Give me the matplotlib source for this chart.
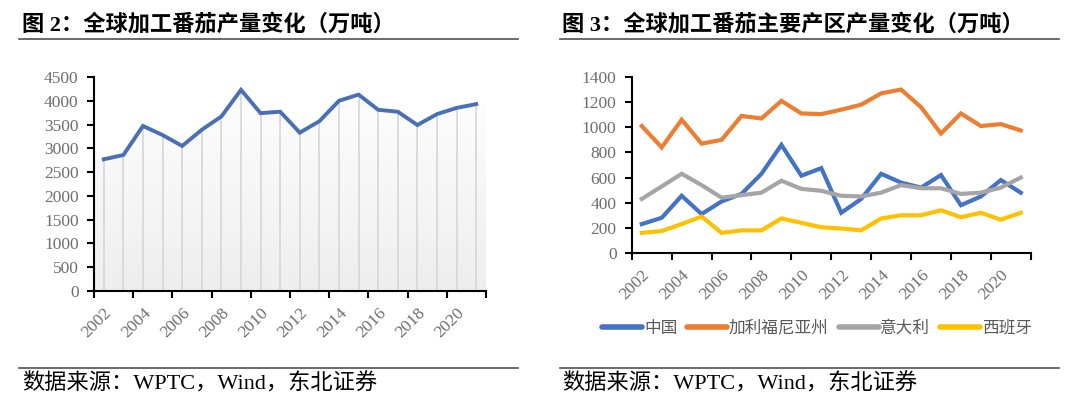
import numpy as np
import matplotlib
matplotlib.use('Agg')
import matplotlib.pyplot as plt
from matplotlib.lines import Line2D
from matplotlib.patches import Polygon
from matplotlib.colors import LinearSegmentedColormap

plt.rcParams['font.family'] = ['Liberation Serif', 'Noto Sans CJK SC', 'DejaVu Sans']

# data (万吨)
years = list(range(2002, 2022))
world_total = [2770, 2860, 3470, 3280, 3050, 3390, 3670, 4230, 3740, 3770,
               3330, 3570, 4000, 4130, 3810, 3770, 3490, 3720, 3850, 3930]

region_names = ['中国', '加利福尼亚州', '意大利', '西班牙']
china = [230, 280, 455, 310, 410, 470, 630, 860, 615, 675,
         320, 430, 630, 560, 520, 620, 380, 450, 580, 480]
california = [1010, 840, 1060, 870, 900, 1090, 1070, 1210, 1110, 1105,
              1140, 1180, 1270, 1300, 1160, 950, 1110, 1010, 1025, 975]
italy = [430, 530, 630, 540, 440, 460, 480, 575, 510, 495,
         455, 450, 480, 540, 515, 515, 470, 480, 520, 600]
spain = [160, 175, 230, 290, 160, 180, 180, 275, 240, 205,
         195, 180, 275, 300, 300, 340, 285, 320, 265, 320]
region_values = [china, california, italy, spain]
region_colors = ['#4472c4', '#ed7d31', '#a5a5a5', '#ffc000']

tick_color = '#6e6e6e'

fig = plt.figure(figsize=(10.8, 4), dpi=100)


def style_axis(ax, ymax, ystep):
    n = len(years)
    ax.set_xlim(-0.5, n - 0.5)
    ax.set_ylim(0, ymax)
    ax.set_yticks(np.arange(0, ymax + 1, ystep))
    # ticks on category borders, labels on category centers
    ax.set_xticks(np.arange(-0.5, n, 2))
    ax.set_xticklabels([])
    ax.set_xticks(np.arange(0, n, 2), minor=True)
    ax.set_xticklabels([str(y) for y in years[::2]], minor=True,
                       rotation=45, ha='right', va='top', rotation_mode='anchor')
    ax.tick_params(axis='x', which='minor', length=0, pad=10,
                   labelsize=12.5, labelcolor=tick_color)
    ax.tick_params(axis='x', which='major', direction='out', length=5, width=1.5)
    ax.tick_params(axis='y', direction='out', length=5, width=1.5, pad=6,
                   labelsize=12.5, labelcolor=tick_color)
    for s in ['top', 'right']:
        ax.spines[s].set_visible(False)
    for s in ['left', 'bottom']:
        ax.spines[s].set_linewidth(1.5)
        ax.spines[s].set_color('black')


# ---------- left chart ----------
ax1 = fig.add_axes([0.087, 0.2725, 0.363, 0.535])
style_axis(ax1, 4500, 500)
x = np.arange(len(years))

# gradient area under the line
verts = [(-0.5, 0), (-0.5, world_total[0])] + list(zip(x, world_total)) + \
        [(len(years) - 0.5, world_total[-1]), (len(years) - 0.5, 0)]
poly = Polygon(verts, closed=True, facecolor='none', edgecolor='none')
ax1.add_patch(poly)
cmap = LinearSegmentedColormap.from_list('g', ['#ffffff', '#eeeeee'])
grad = np.linspace(0, 1, 256).reshape(-1, 1)
im = ax1.imshow(grad, cmap=cmap, aspect='auto', origin='upper',
                extent=(-0.5, len(years) - 0.5, 0, 4500), zorder=1)
im.set_clip_path(poly)

ax1.vlines(x, 0, world_total, color='#d6d6d6', lw=1.2, zorder=2)
ax1.plot(x, world_total, color='#4a6fb3', lw=2.8, solid_joinstyle='miter', zorder=3)
ax1.set_xlim(-0.5, len(years) - 0.5)
ax1.set_ylim(0, 4500)

# ---------- right chart ----------
ax2 = fig.add_axes([0.585, 0.3675, 0.3694, 0.44])
style_axis(ax2, 1400, 200)
handles = []
for name, vals, col in zip(region_names, region_values, region_colors):
    h, = ax2.plot(x, vals, color=col, lw=3, label=name, solid_joinstyle='miter')
    handles.append(h)

leg = fig.legend(handles=handles, loc='center', bbox_to_anchor=(0.7565, 0.18),
                 ncol=4, frameon=False, handlelength=2.4, handletextpad=0.1,
                 columnspacing=0.6,
                 prop={'family': ['Noto Sans CJK SC'], 'size': 12})
for t in leg.get_texts():
    t.set_color('#595959')
for lh in leg.get_lines():
    lh.set_linewidth(4)
    lh.set_solid_capstyle('round')

# ---------- titles, rules and source ----------
fig.text(22 / 1080, 1 - 25 / 400, '图 2：全球加工番茄产量变化（万吨）',
         fontsize=16, fontweight='bold', va='center', ha='left')
fig.text(562 / 1080, 1 - 25 / 400, '图 3：全球加工番茄主要产区产量变化（万吨）',
         fontsize=16, fontweight='bold', va='center', ha='left')
for x0, x1 in [(19, 518), (560, 1059)]:
    for yy in [39, 368]:
        fig.add_artist(Line2D([x0 / 1080, x1 / 1080], [1 - yy / 400, 1 - yy / 400],
                              color='#505050', lw=1.2))
for x0 in [22, 562]:
    fig.text(x0 / 1080, 1 - 384 / 400, '数据来源：WPTC，Wind，东北证券',
             fontsize=16, va='center', ha='left')

fig.savefig('out.png', dpi=100)
